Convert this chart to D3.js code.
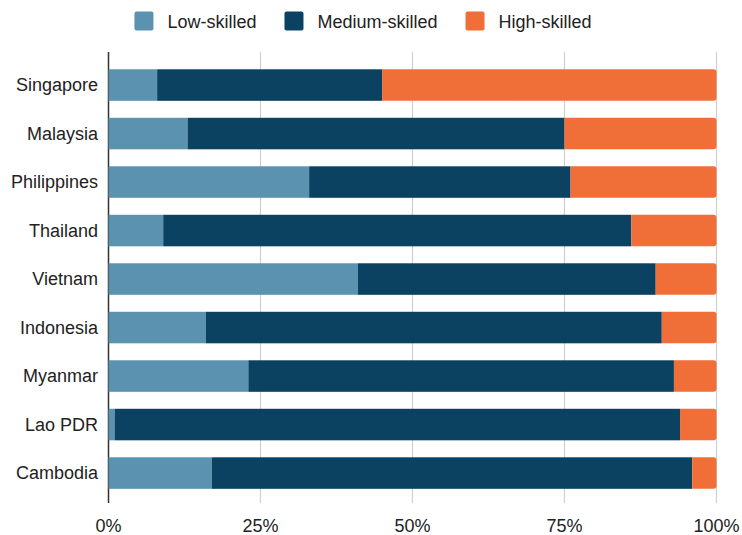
<!DOCTYPE html>
<html>
<head>
<meta charset="utf-8">
<script src="https://cdn.jsdelivr.net/npm/d3@7"></script>
<style>
  body { margin: 0; background: #fff; }
  text { font-family: "Liberation Sans", Arial, sans-serif; fill: #222; }
</style>
</head>
<body>
<div id="chart"></div>
<script>
// Skill composition of employment, share of each country's workforce (%).
const countries = ['Singapore', 'Malaysia', 'Philippines', 'Thailand', 'Vietnam', 'Indonesia', 'Myanmar', 'Lao PDR', 'Cambodia'];
const lowSkilled    = [8, 13, 33, 9, 41, 16, 23, 1, 17];
const mediumSkilled = [37, 62, 43, 77, 49, 75, 70, 93, 79];
const highSkilled   = [55, 25, 24, 14, 10, 9, 7, 6, 4];
const seriesNames = ['Low-skilled', 'Medium-skilled', 'High-skilled'];
const seriesColors = ['#5a92b0', '#0c4261', '#f06f38'];
const tickValues = [0, 25, 50, 75, 100];

const width = 742, height = 535;
const margin = { left: 108.5, right: 25.5, top: 52, bottom: 32 };

const rows = countries.map((c, i) => ({ country: c, values: [lowSkilled[i], mediumSkilled[i], highSkilled[i]] }));
const stack = d3.stack().keys([0, 1, 2]).value((d, k) => d.values[k]);
const layers = stack(rows);

const x = d3.scaleLinear().domain([0, 100]).range([margin.left, width - margin.right]);
const y = d3.scaleBand().domain(countries).range([60.8, 497.3]).paddingInner(0.35).paddingOuter(0.175);

const svg = d3.select('#chart').append('svg').attr('width', width).attr('height', height);

// vertical grid lines at the quarter marks
svg.append('g').selectAll('line').data(tickValues.slice(1)).enter().append('line')
  .attr('x1', d => x(d)).attr('x2', d => x(d))
  .attr('y1', margin.top).attr('y2', height - margin.bottom)
  .attr('stroke', '#cfcfcf').attr('stroke-width', 1.2);

// left baseline
svg.append('line').attr('x1', x(0)).attr('x2', x(0))
  .attr('y1', margin.top).attr('y2', height - margin.bottom)
  .attr('stroke', '#333').attr('stroke-width', 1.5);

// stacked bars; the last segment gets rounded right corners
const r = 3;
layers.forEach((layer, k) => {
  const g = svg.append('g').attr('fill', seriesColors[k]);
  if (k < layers.length - 1) {
    g.selectAll('rect').data(layer).enter().append('rect')
      .attr('x', d => x(d[0])).attr('y', d => y(d.data.country))
      .attr('width', d => x(d[1]) - x(d[0])).attr('height', y.bandwidth());
  } else {
    g.selectAll('path').data(layer).enter().append('path')
      .attr('d', d => {
        const x0 = x(d[0]), x1 = x(d[1]), y0 = y(d.data.country), h = y.bandwidth();
        return `M${x0},${y0}H${x1 - r}Q${x1},${y0} ${x1},${y0 + r}V${y0 + h - r}Q${x1},${y0 + h} ${x1 - r},${y0 + h}H${x0}Z`;
      });
  }
});

// category labels
svg.append('g').selectAll('text').data(countries).enter().append('text')
  .attr('x', 98).attr('y', d => y(d) + y.bandwidth() / 2).attr('dy', '0.35em')
  .attr('text-anchor', 'end').attr('font-size', 18).text(d => d);

// bottom tick labels
svg.append('g').selectAll('text').data(tickValues).enter().append('text')
  .attr('x', d => x(d)).attr('y', 532)
  .attr('text-anchor', 'middle').attr('font-size', 18).text(d => d + '%');

// legend, centred above the plot
const legend = svg.append('g');
const items = legend.selectAll('g').data(seriesNames).enter().append('g');
items.append('rect').attr('width', 19).attr('height', 19).attr('y', 11.5).attr('rx', 2)
  .attr('fill', (d, i) => seriesColors[i]);
items.append('text').attr('x', 33).attr('y', 27.5).attr('font-size', 18).text(d => d);
let cursor = 0;
items.each(function () {
  const w = d3.select(this).select('text').node().getComputedTextLength();
  d3.select(this).attr('transform', `translate(${cursor},0)`);
  cursor += 33 + w + 28;
});
const legendW = cursor - 28;
legend.attr('transform', `translate(${363 - legendW / 2},0)`);
</script>
</body>
</html>
